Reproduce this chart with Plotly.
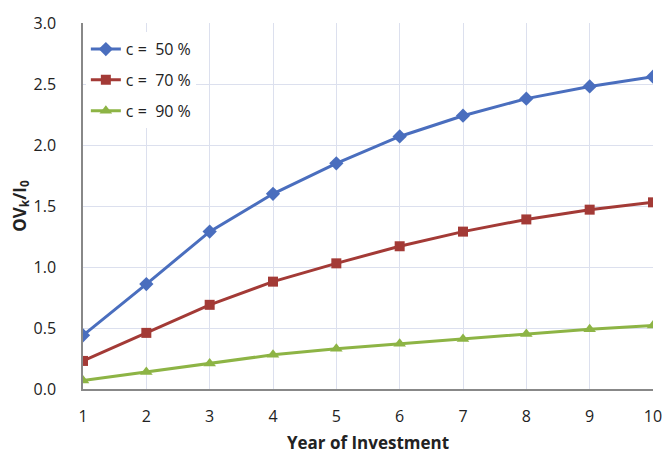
import plotly.graph_objects as go

years = [1, 2, 3, 4, 5, 6, 7, 8, 9, 10]
c50 = [0.44, 0.86, 1.29, 1.60, 1.85, 2.07, 2.24, 2.38, 2.48, 2.56]
c70 = [0.23, 0.46, 0.69, 0.88, 1.03, 1.17, 1.29, 1.39, 1.47, 1.53]
c90 = [0.07, 0.14, 0.21, 0.28, 0.33, 0.37, 0.41, 0.45, 0.49, 0.52]
names = ["c =  50 %", "c =  70 %", "c =  90 %"]

fig = go.Figure()
fig.add_trace(go.Scatter(x=years, y=c50, name=names[0], mode="lines+markers", legendgroup="a",
                         line=dict(color="#4A6EBE", width=3),
                         marker=dict(symbol="diamond", size=11, color="#4A6EBE")))
fig.add_trace(go.Scatter(x=years, y=c70, name=names[1], mode="lines+markers", legendgroup="b",
                         line=dict(color="#A33A36", width=3),
                         marker=dict(symbol="square", size=10, color="#A33A36")))
fig.add_trace(go.Scatter(x=years, y=c90, name=names[2], mode="lines+markers", legendgroup="c",
                         line=dict(color="#8DB445", width=3),
                         marker=dict(symbol="triangle-up", size=11, color="#8DB445")))

fig.update_layout(
    width=665, height=454,
    margin=dict(l=83, r=12, t=23, b=65),
    paper_bgcolor="white", plot_bgcolor="white",
    font=dict(family="Open Sans, Liberation Sans, sans-serif", size=16, color="#222"),
    legend=dict(x=0.005, y=0.975, xanchor="left", yanchor="top",
                bgcolor="rgba(255,255,255,1)", font=dict(size=16),
                tracegroupgap=7, itemwidth=30),
    xaxis=dict(range=[1, 10], tickvals=years, showgrid=True, gridcolor="#DCE0EE",
               showline=True, linecolor="#888", linewidth=1.5, zeroline=False,
               ticks="outside", ticklen=12, tickcolor="rgba(0,0,0,0)",
               tickfont=dict(size=16), automargin=False,
               title=dict(text="<b>Year of Investment</b>", font=dict(size=17), standoff=14)),
    yaxis=dict(range=[0, 3.0], dtick=0.5, tickformat=".1f", showgrid=True, gridcolor="#DCE0EE",
               showline=True, linecolor="#888", linewidth=1.5, zeroline=False,
               ticks="outside", ticklen=22, tickcolor="rgba(0,0,0,0)",
               tickfont=dict(size=16), automargin=False,
               title=dict(text="<b>OV<sub>k</sub>/I<sub>0</sub></b>", font=dict(size=17), standoff=3)),
)

fig.write_html("out.html")
